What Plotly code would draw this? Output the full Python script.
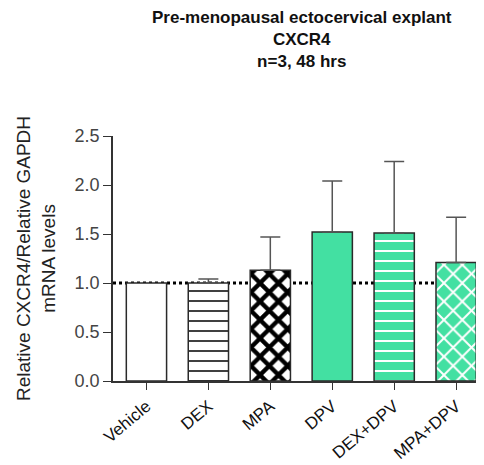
"""Pre-menopausal ectocervical explant, CXCR4 expression bar chart."""

import plotly.graph_objects as go

TREATMENTS = ["Vehicle", "DEX", "MPA", "DPV", "DEX+DPV", "MPA+DPV"]
MEAN_EXPRESSION = [1.0, 1.0, 1.13, 1.52, 1.51, 1.21]
SEM_UPPER = [0.0, 0.04, 0.34, 0.52, 0.73, 0.46]
Y_TICKS = [0.0, 0.5, 1.0, 1.5, 2.0, 2.5]
TITLE_LINES = ["Pre-menopausal ectocervical explant", "CXCR4", "n=3, 48 hrs"]

GREEN = "#43e0a2"

# (shape, fill, pattern colour, size, solidity) per bar
BAR_STYLES = [
    ("", "white", "white", 10, 0.2),
    ("-", "white", "#000000", 10, 0.15),
    ("x", "white", "#000000", 13, 0.55),
    ("", GREEN, GREEN, 10, 0.2),
    ("-", GREEN, "white", 10, 0.2),
    ("x", GREEN, "white", 13, 0.28),
]

fig = go.Figure()

for i, name in enumerate(TREATMENTS):
    shape, fill, fg, size, solidity = BAR_STYLES[i]
    pattern = dict(shape=shape)
    if shape:
        pattern = dict(shape=shape, bgcolor=fill, fgcolor=fg, fgopacity=1,
                       fillmode="overlay", size=size, solidity=solidity)
    fig.add_trace(
        go.Bar(
            x=[i],
            y=[MEAN_EXPRESSION[i]],
            width=0.65,
            marker=dict(color=fill, line=dict(color="#2a2a2a", width=1.5), pattern=pattern),
            error_y=dict(
                type="data",
                symmetric=False,
                array=[SEM_UPPER[i]],
                arrayminus=[0],
                color="#555555",
                thickness=1.5,
                width=10,
                visible=SEM_UPPER[i] > 0,
            ),
            showlegend=False,
        )
    )

# reference line at 1.0
fig.add_shape(
    type="line", xref="paper", x0=0, x1=1, yref="y", y0=1.0, y1=1.0,
    line=dict(color="black", width=3, dash="dot"), layer="below",
)

fig.add_annotation(
    text="<b>" + "<br>".join(TITLE_LINES) + "</b>",
    xref="paper", yref="paper", x=0.51, y=1.53,
    xanchor="center", yanchor="top", showarrow=False,
    font=dict(size=17, color="#111111"),
)

# page body has an 8px margin, so the figure is sized to end at the window edge
fig.update_layout(
    width=476,
    height=457,
    margin=dict(l=105, r=0, t=128, b=84),
    plot_bgcolor="white",
    paper_bgcolor="white",
    font=dict(family="Liberation Sans, Arial", color="#222222"),
    xaxis=dict(
        range=[-0.54, 5.45],
        tickmode="array",
        tickvals=list(range(len(TREATMENTS))),
        ticktext=TREATMENTS,
        tickangle=-40,
        ticks="outside",
        ticklen=7,
        tickcolor="#333333",
        tickfont=dict(size=17, color="#111111"),
        showline=True,
        linecolor="#333333",
        linewidth=1.5,
        showgrid=False,
        zeroline=False,
        automargin=False,
    ),
    yaxis=dict(
        range=[0, 2.5],
        tickmode="array",
        tickvals=Y_TICKS,
        ticktext=[f"{t:.1f}" for t in Y_TICKS],
        ticks="outside",
        ticklen=8,
        tickcolor="#333333",
        tickfont=dict(size=18, color="#444444"),
        showline=True,
        linecolor="#333333",
        linewidth=1.5,
        showgrid=False,
        zeroline=False,
        automargin=False,
        title=dict(
            text="Relative CXCR4/Relative GAPDH<br>mRNA levels",
            font=dict(size=19, color="#222222"),
            standoff=14,
        ),
    ),
)

fig.write_html("out.html")
